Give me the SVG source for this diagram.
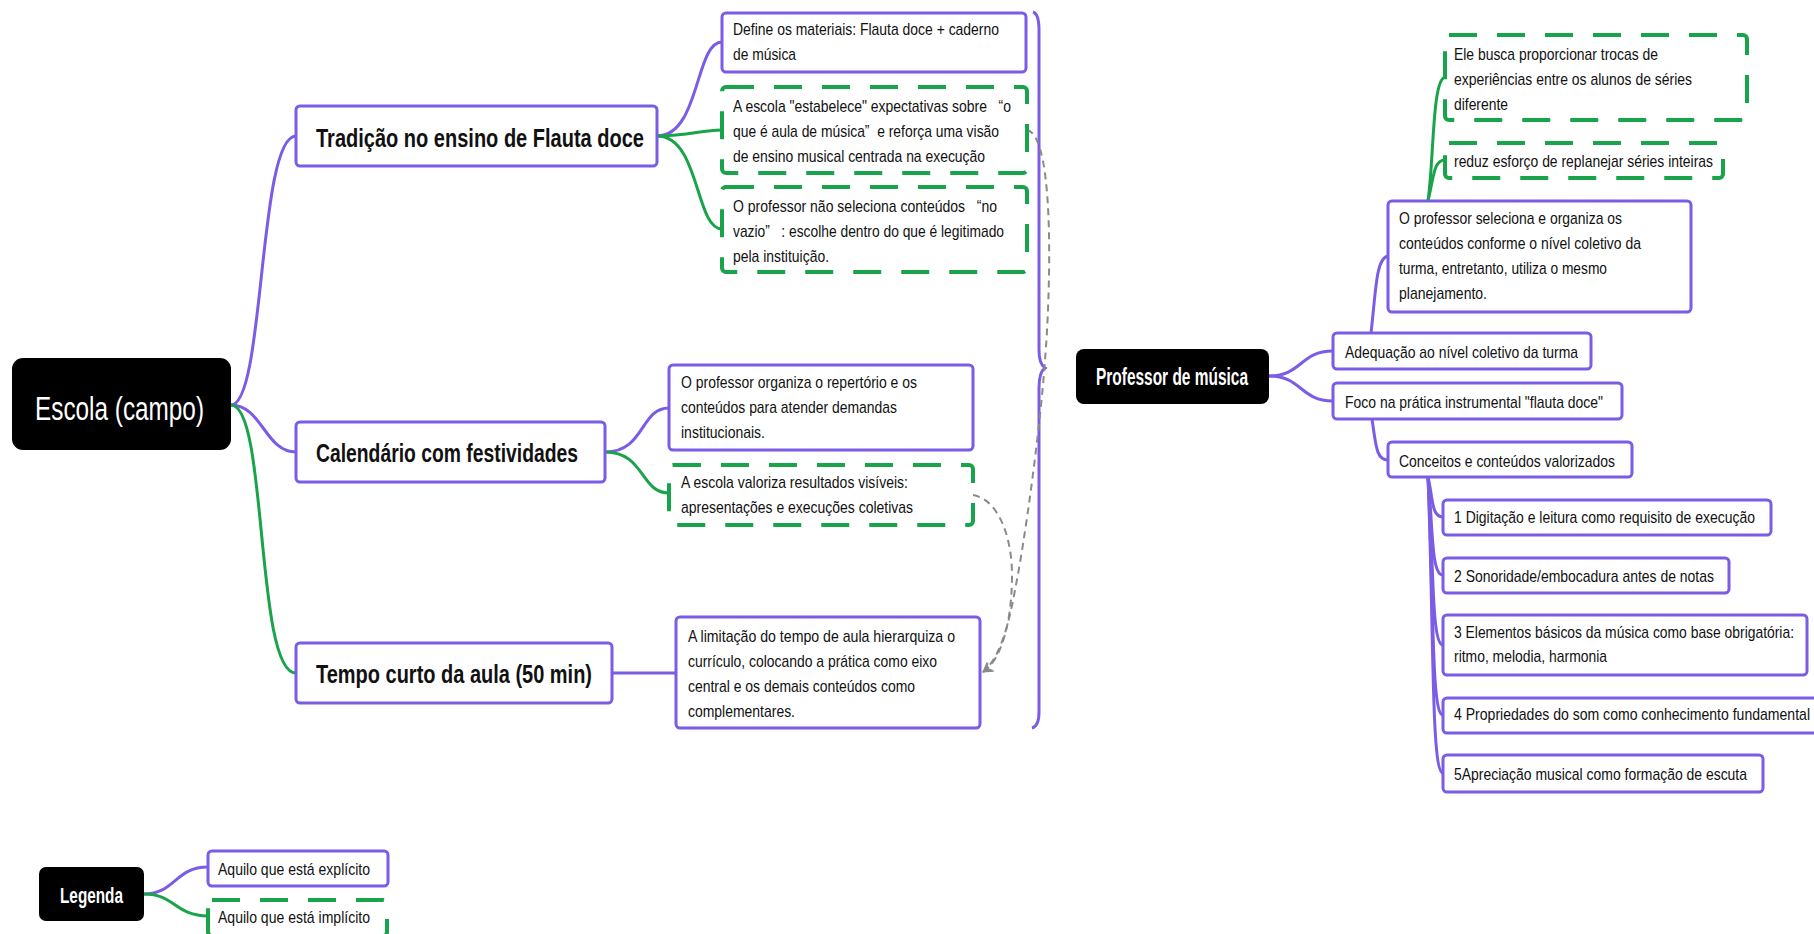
<svg xmlns="http://www.w3.org/2000/svg" width="1814" height="934" viewBox="0 0 1814 934">
<style>
.box{fill:#fff;stroke:#7b5ce6;stroke-width:3}
.dbox{fill:#fff;stroke:#19a34a;stroke-width:4;stroke-dasharray:28 20}
.rootbox{fill:#000}
.t{font-family:"Liberation Sans Narrow","Liberation Sans",Arial,sans-serif;font-size:17px;fill:#111;white-space:pre}
.tt{font-family:"Liberation Sans Narrow","Liberation Sans",Arial,sans-serif;font-size:26px;font-weight:bold;fill:#111}
.rt{font-family:"Liberation Sans Narrow","Liberation Sans",Arial,sans-serif;fill:#fff}
.cp{fill:none;stroke:#7b5ce6;stroke-width:3}
.cg{fill:none;stroke:#19a34a;stroke-width:3}
.cx{fill:none;stroke:#8a8a8a;stroke-width:2;stroke-dasharray:7 5}
</style>
<defs>
<marker id="ah" viewBox="0 0 12 12" refX="10" refY="6" markerWidth="12" markerHeight="12" markerUnits="userSpaceOnUse" orient="auto">
<path d="M0,0 L11,6 L0,12 L4,6 Z" fill="#8a8a8a"/>
</marker>
</defs>
<rect width="1814" height="934" fill="#fff"/>

<g id="connectors">
<path class="cp" d="M231,405 C265,405 258,136 296,136"/>
<path class="cp" d="M231,405 C262,405 265,452 296,452"/>
<path class="cg" d="M231,405 C268,405 255,673 296,673"/>
<path class="cp" d="M657,136 C700,136 695,42 722,42"/>
<path class="cg" d="M657,136 C690,136 700,130 722,130"/>
<path class="cg" d="M657,136 C700,136 695,229 722,229"/>
<path class="cp" d="M605,452 C645,452 640,408 669,408"/>
<path class="cg" d="M605,452 C645,452 640,493 669,493"/>
<path class="cp" d="M612,673 L676,673"/>
<path class="cp" d="M1033,12 Q1039,14 1039,30 L1039,350 Q1039,364 1045,368 Q1039,372 1039,388 L1039,712 Q1039,726 1032,728"/>
<path class="cx" marker-end="url(#ah)" d="M1027,130 C1056,136 1050,300 1045,360 C1040,430 1025,540 1015,590 C1008,630 998,660 983,672"/>
<path class="cx" marker-end="url(#ah)" d="M973,495 C1000,500 1012,540 1012,575 C1012,620 1002,660 983,672"/>
<path class="cp" d="M1269,376 C1302,376 1300,351 1333,351"/>
<path class="cp" d="M1269,376 C1302,376 1300,401 1333,401"/>
<path class="cp" d="M1371,333 C1376,290 1376,258 1388,256"/>
<path class="cg" d="M1428,201 C1434,160 1432,80 1445,77"/>
<path class="cg" d="M1428,201 C1434,175 1434,160 1445,160"/>
<path class="cp" d="M1372,419 C1376,445 1376,460 1388,460"/>
<path class="cp" d="M1428,477 C1433,497 1431,517 1443,517"/>
<path class="cp" d="M1428,477 C1433,527 1431,575 1443,575"/>
<path class="cp" d="M1428,477 C1434,560 1431,645 1443,645"/>
<path class="cp" d="M1428,477 C1434,600 1431,715 1443,715"/>
<path class="cp" d="M1428,477 C1434,630 1431,773 1443,773"/>
<path class="cp" d="M144,894 C175,894 175,867 208,867"/>
<path class="cg" d="M144,894 C175,894 175,916 208,916"/>
</g>

<g id="escola">
<rect class="rootbox" x="12" y="358" width="219" height="92" rx="11"/>
<text class="rt" x="35" y="420" font-size="33" textLength="169" lengthAdjust="spacingAndGlyphs">Escola (campo)</text>
</g>

<g id="tradicao">
<rect class="box" x="296" y="106" width="361" height="60" rx="4"/>
<text class="tt" x="316" y="147" textLength="328" lengthAdjust="spacingAndGlyphs">Tradição no ensino de Flauta doce</text>
</g>
<g id="calendario">
<rect class="box" x="296" y="422" width="309" height="60" rx="4"/>
<text class="tt" x="316" y="462" textLength="262" lengthAdjust="spacingAndGlyphs">Calendário com festividades</text>
</g>
<g id="tempo">
<rect class="box" x="296" y="643" width="316" height="60" rx="4"/>
<text class="tt" x="316" y="683" textLength="276" lengthAdjust="spacingAndGlyphs">Tempo curto da aula (50 min)</text>
</g>

<g id="define">
<rect class="box" x="722" y="13" width="304" height="59" rx="4"/>
<text class="t" x="733" y="35" textLength="266" lengthAdjust="spacingAndGlyphs">Define os materiais: Flauta doce + caderno</text>
<text class="t" x="733" y="60" textLength="63" lengthAdjust="spacingAndGlyphs">de música</text>
</g>
<g id="expectativas">
<rect class="dbox" x="722" y="87" width="305" height="86" rx="4"/>
<text class="t" x="733" y="112" textLength="278" lengthAdjust="spacingAndGlyphs">A escola "estabelece" expectativas sobre   “o</text>
<text class="t" x="733" y="137" textLength="266" lengthAdjust="spacingAndGlyphs">que é aula de música”  e reforça uma visão</text>
<text class="t" x="733" y="162" textLength="252" lengthAdjust="spacingAndGlyphs">de ensino musical centrada na execução</text>
</g>
<g id="naovazio">
<rect class="dbox" x="722" y="187" width="305" height="85" rx="4"/>
<text class="t" x="733" y="212" textLength="264" lengthAdjust="spacingAndGlyphs">O professor não seleciona conteúdos   “no</text>
<text class="t" x="733" y="237" textLength="271" lengthAdjust="spacingAndGlyphs">vazio”   : escolhe dentro do que é legitimado</text>
<text class="t" x="733" y="262" textLength="96" lengthAdjust="spacingAndGlyphs">pela instituição.</text>
</g>
<g id="organiza">
<rect class="box" x="669" y="365" width="304" height="85" rx="4"/>
<text class="t" x="681" y="388" textLength="236" lengthAdjust="spacingAndGlyphs">O professor organiza o repertório e os</text>
<text class="t" x="681" y="413" textLength="216" lengthAdjust="spacingAndGlyphs">conteúdos para atender demandas</text>
<text class="t" x="681" y="438" textLength="84" lengthAdjust="spacingAndGlyphs">institucionais.</text>
</g>
<g id="valoriza">
<rect class="dbox" x="669" y="465" width="304" height="60" rx="4"/>
<text class="t" x="681" y="488" textLength="227" lengthAdjust="spacingAndGlyphs">A escola valoriza resultados visíveis:</text>
<text class="t" x="681" y="513" textLength="232" lengthAdjust="spacingAndGlyphs">apresentações e execuções coletivas</text>
</g>
<g id="limitacao">
<rect class="box" x="676" y="617" width="304" height="111" rx="4"/>
<text class="t" x="688" y="642" textLength="267" lengthAdjust="spacingAndGlyphs">A limitação do tempo de aula hierarquiza o</text>
<text class="t" x="688" y="667" textLength="249" lengthAdjust="spacingAndGlyphs">currículo, colocando a prática como eixo</text>
<text class="t" x="688" y="692" textLength="227" lengthAdjust="spacingAndGlyphs">central e os demais conteúdos como</text>
<text class="t" x="688" y="717" textLength="107" lengthAdjust="spacingAndGlyphs">complementares.</text>
</g>

<g id="professor">
<rect class="rootbox" x="1076" y="349" width="193" height="55" rx="8"/>
<text class="rt" x="1096" y="385" font-size="23" font-weight="bold" textLength="152" lengthAdjust="spacingAndGlyphs">Professor de música</text>
</g>
<g id="adequacao">
<rect class="box" x="1333" y="333" width="258" height="36" rx="4"/>
<text class="t" x="1345" y="358" textLength="233" lengthAdjust="spacingAndGlyphs">Adequação ao nível coletivo da turma</text>
</g>
<g id="foco">
<rect class="box" x="1333" y="383" width="289" height="36" rx="4"/>
<text class="t" x="1345" y="408" textLength="258" lengthAdjust="spacingAndGlyphs">Foco na prática instrumental "flauta doce"</text>
</g>
<g id="seleciona">
<rect class="box" x="1388" y="201" width="303" height="111" rx="4"/>
<text class="t" x="1399" y="224" textLength="223" lengthAdjust="spacingAndGlyphs">O professor seleciona e organiza os</text>
<text class="t" x="1399" y="249" textLength="242" lengthAdjust="spacingAndGlyphs">conteúdos conforme o nível coletivo da</text>
<text class="t" x="1399" y="274" textLength="208" lengthAdjust="spacingAndGlyphs">turma, entretanto, utiliza o mesmo</text>
<text class="t" x="1399" y="299" textLength="88" lengthAdjust="spacingAndGlyphs">planejamento.</text>
</g>
<g id="trocas">
<rect class="dbox" x="1445" y="35" width="302" height="85" rx="4"/>
<text class="t" x="1454" y="60" textLength="204" lengthAdjust="spacingAndGlyphs">Ele busca proporcionar trocas de</text>
<text class="t" x="1454" y="85" textLength="238" lengthAdjust="spacingAndGlyphs">experiências entre os alunos de séries</text>
<text class="t" x="1454" y="110" textLength="54" lengthAdjust="spacingAndGlyphs">diferente</text>
</g>
<g id="reduz">
<rect class="dbox" x="1445" y="143" width="278" height="35" rx="4"/>
<text class="t" x="1454" y="167" textLength="259" lengthAdjust="spacingAndGlyphs">reduz esforço de replanejar séries inteiras</text>
</g>
<g id="conceitos">
<rect class="box" x="1388" y="442" width="244" height="35" rx="4"/>
<text class="t" x="1399" y="467" textLength="216" lengthAdjust="spacingAndGlyphs">Conceitos e conteúdos valorizados</text>
</g>
<g id="item1">
<rect class="box" x="1443" y="500" width="328" height="35" rx="4"/>
<text class="t" x="1454" y="523" textLength="301" lengthAdjust="spacingAndGlyphs">1 Digitação e leitura como requisito de execução</text>
</g>
<g id="item2">
<rect class="box" x="1443" y="558" width="286" height="35" rx="4"/>
<text class="t" x="1454" y="582" textLength="260" lengthAdjust="spacingAndGlyphs">2 Sonoridade/embocadura antes de notas</text>
</g>
<g id="item3">
<rect class="box" x="1443" y="615" width="364" height="60" rx="4"/>
<text class="t" x="1454" y="638" textLength="340" lengthAdjust="spacingAndGlyphs">3 Elementos básicos da música como base obrigatória:</text>
<text class="t" x="1454" y="662" textLength="153" lengthAdjust="spacingAndGlyphs">ritmo, melodia, harmonia</text>
</g>
<g id="item4">
<rect class="box" x="1443" y="698" width="385" height="35" rx="4"/>
<text class="t" x="1454" y="720" textLength="356" lengthAdjust="spacingAndGlyphs">4 Propriedades do som como conhecimento fundamental</text>
</g>
<g id="item5">
<rect class="box" x="1443" y="755" width="320" height="37" rx="4"/>
<text class="t" x="1454" y="780" textLength="293" lengthAdjust="spacingAndGlyphs">5Apreciação musical como formação de escuta</text>
</g>

<g id="legenda">
<rect class="rootbox" x="39" y="867" width="105" height="54" rx="7"/>
<text class="rt" x="60" y="903" font-size="22" font-weight="bold" textLength="63" lengthAdjust="spacingAndGlyphs">Legenda</text>
</g>
<g id="explicito">
<rect class="box" x="208" y="851" width="180" height="35" rx="4"/>
<text class="t" x="218" y="875" textLength="152" lengthAdjust="spacingAndGlyphs">Aquilo que está explícito</text>
</g>
<g id="implicito">
<rect class="dbox" x="208" y="900" width="179" height="36" rx="4"/>
<text class="t" x="218" y="923" textLength="152" lengthAdjust="spacingAndGlyphs">Aquilo que está implícito</text>
</g>
</svg>
